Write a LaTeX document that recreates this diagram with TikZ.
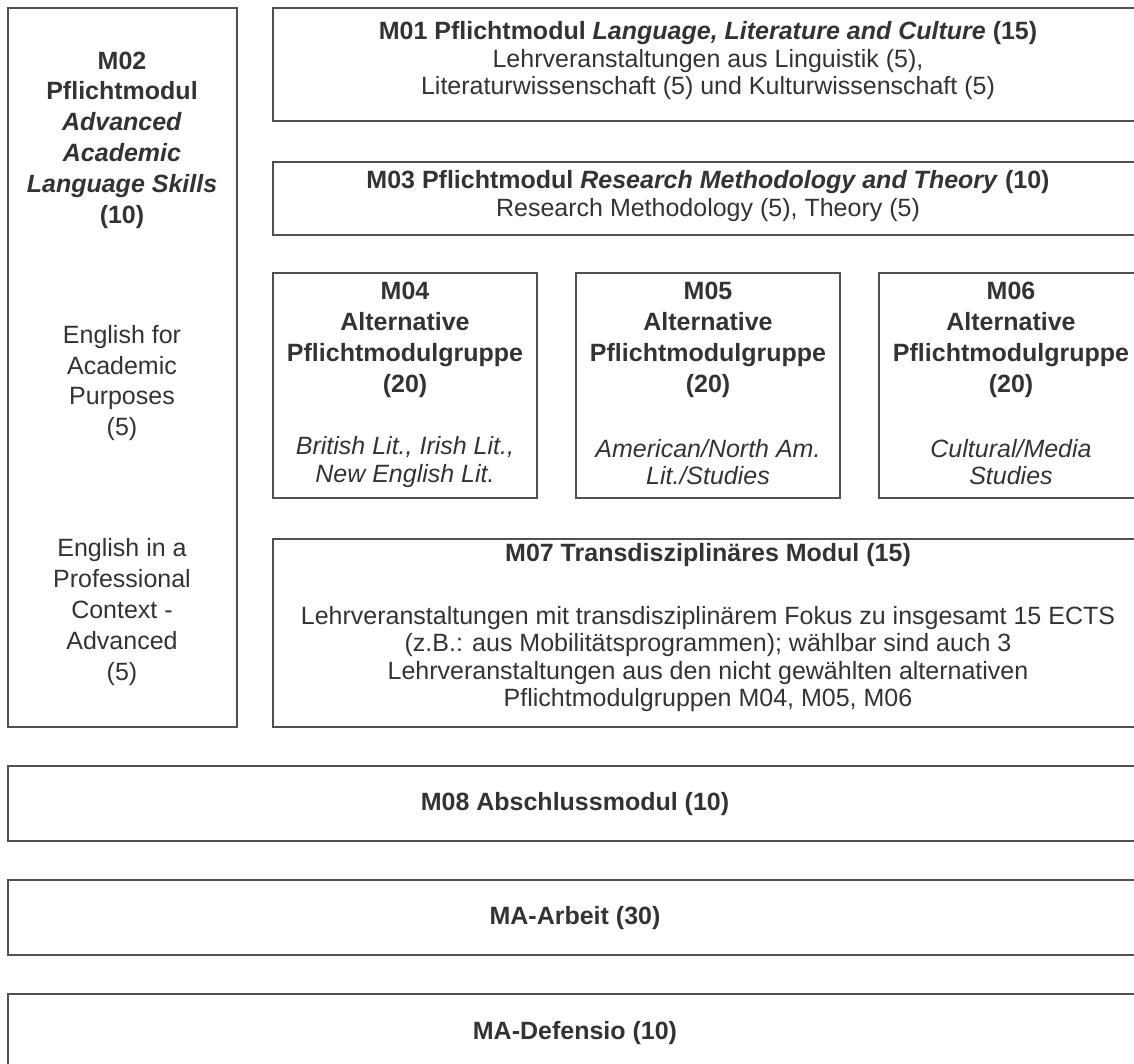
\documentclass[tikz,border=0pt]{standalone}
\usepackage{fontspec}
\setmainfont{Liberation Sans}
\definecolor{linegray}{HTML}{505050}
\definecolor{txtgray}{HTML}{333333}
\begin{document}
\begin{tikzpicture}[x=0.5pt,y=-0.5pt]
\tikzstyle{every node}+=[inner sep=0pt]
\tikzstyle{box}=[draw=linegray,line width=1pt]
\tikzstyle{txt}=[align=center,text=txtgray,font=\fontsize{12.5}{15.4}\selectfont]
\tikzstyle{tight}=[align=center,text=txtgray,font=\fontsize{12.5}{13.75}\selectfont]
\useasboundingbox (0,0) rectangle (1134,1064);
\draw [box] (8,8) rectangle (237,727);
\node [txt] (m02) at (122,140) {\textbf{M02}\\\textbf{Pflichtmodul}\\\textbf{\textit{Advanced}}\\\textbf{\textit{Academic}}\\\textbf{\textit{Language Skills}}\\\textbf{(10)}};
\node [txt] (eap) at (122,383) {English for\\Academic\\Purposes\\(5)};
\node [txt] (epc) at (122,612) {English in a\\Professional\\Context -\\Advanced\\(5)};
\draw [box] (273,8) rectangle (1143,121);
\node [tight] (m01) at (708,61) {\textbf{M01 Pflichtmodul \textit{Language, Literature and Culture} (15)}\\Lehrveranstaltungen aus Linguistik (5),\\Literaturwissenschaft (5) und Kulturwissenschaft (5)};
\draw [box] (273,162) rectangle (1143,235);
\node [tight] (m03) at (708,196) {\textbf{M03 Pflichtmodul \textit{Research Methodology and Theory} (10)}\\Research Methodology (5), Theory (5)};
\draw [box] (273,273) rectangle (537,498);
\node [txt] (m04) at (405,340) {\textbf{M04}\\\textbf{Alternative}\\\textbf{Pflichtmodulgruppe}\\\textbf{(20)}};
\node [tight] (m04t) at (405,462) {\textit{British Lit., Irish Lit.,}\\\textit{New English Lit.}};
\draw [box] (576,273) rectangle (840,498);
\node [txt] (m05) at (708,340) {\textbf{M05}\\\textbf{Alternative}\\\textbf{Pflichtmodulgruppe}\\\textbf{(20)}};
\node [tight] (m05t) at (708,462) {\textit{American/North Am.}\\\textit{Lit./Studies}};
\draw [box] (879,273) rectangle (1143,498);
\node [txt] (m06) at (1011,340) {\textbf{M06}\\\textbf{Alternative}\\\textbf{Pflichtmodulgruppe}\\\textbf{(20)}};
\node [tight] (m06t) at (1011,462) {\textit{Cultural/Media}\\\textit{Studies}};
\draw [box] (273,539) rectangle (1143,727);
\node [txt] (m07) at (708,555) {\textbf{M07 Transdisziplinäres Modul (15)}};
\node [tight] (m07t) at (708,659) {Lehrveranstaltungen mit transdisziplinärem Fokus zu insgesamt 15 ECTS\\(z.B.: aus Mobilitätsprogrammen); wählbar sind auch 3\\Lehrveranstaltungen aus den nicht gewählten alternativen\\Pflichtmodulgruppen M04, M05, M06};
\draw [box] (8,766) rectangle (1143,841);
\node [txt] (m08) at (575,804) {\textbf{M08 Abschlussmodul (10)}};
\draw [box] (8,880) rectangle (1143,955);
\node [txt] (arbeit) at (575,918) {\textbf{MA-Arbeit (30)}};
\draw [box] (8,994) rectangle (1143,1080);
\node [txt] (defensio) at (575,1033) {\textbf{MA-Defensio (10)}};
\end{tikzpicture}
\end{document}
